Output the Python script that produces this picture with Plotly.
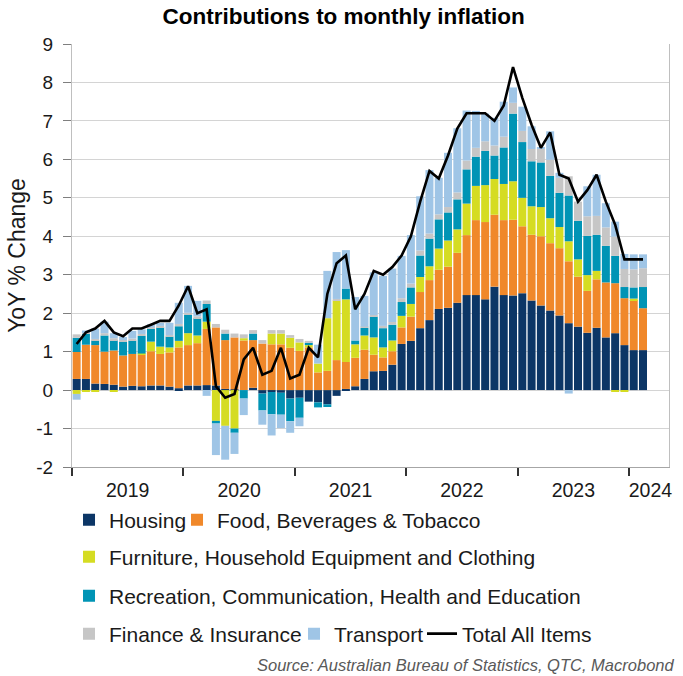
import plotly.graph_objects as go

# Months: Jan 2019 .. Feb 2024 (index 0..61)
months = [f"{y}-{m:02d}" for y in range(2019, 2025) for m in range(1, 13)][:62]

housing = [0.29, 0.29, 0.17, 0.16, 0.14, 0.09, 0.11, 0.10, 0.12, 0.12, 0.09, 0.05,
           0.12, 0.12, 0.13, 0.12, 0.03, 0.02, 0.00, 0.06, -0.09, -0.05, -0.07, -0.22,
           -0.20, -0.30, -0.32, -0.37, -0.15, 0.03, 0.10, 0.29, 0.49, 0.50, 0.66, 1.20,
           1.28, 1.61, 1.82, 2.11, 2.14, 2.27, 2.47, 2.47, 2.36, 2.69, 2.47, 2.46,
           2.52, 2.33, 2.20, 2.07, 1.94, 1.74, 1.65, 1.49, 1.62, 1.37, 1.48, 1.17, 1.04, 1.04]
food = [0.70, 0.89, 1.00, 0.84, 0.89, 0.81, 0.83, 0.82, 0.89, 0.82, 0.89, 1.06,
        1.05, 1.10, 1.46, 1.51, 1.27, 1.35, 1.29, 1.24, 1.21, 1.19, 1.19, 1.10,
        1.02, 1.11, 0.46, 0.50, 0.78, 0.70, 0.74, 0.76, 0.43, 0.35, 0.35, 0.43,
        0.63, 0.94, 1.04, 1.02, 1.07, 1.30, 1.56, 1.95, 2.01, 1.87, 1.95, 1.97,
        1.74, 1.71, 1.80, 1.75, 1.75, 1.61, 1.30, 1.09, 1.26, 1.43, 1.30, 1.22, 1.30, 1.09]
furniture = [-0.10, -0.04, -0.03, 0.00, -0.03, 0.00, 0.00, 0.03, 0.25, 0.19, 0.13, 0.17,
             0.31, 0.20, 0.19, -0.80, -0.93, -1.00, 0.06, 0.00, 0.00, 0.28, 0.28, 0.26,
             0.22, 0.06, 0.23, 1.37, 1.55, 1.63, 0.35, 0.37, 0.45, 0.26, 0.28, 0.30,
             0.33, 0.39, 0.36, 0.55, 0.68, 0.61, 0.82, 0.89, 0.96, 0.93, 0.94, 1.00,
             0.74, 0.74, 0.76, 0.65, 0.55, 0.52, 0.45, 0.41, 0.22, 0.00, -0.04, -0.04, 0.04, 0.00]
recreation = [0.37, 0.28, 0.12, 0.42, 0.27, 0.36, 0.35, 0.46, 0.33, 0.50, 0.28, 0.38,
              0.48, 0.45, 0.46, -0.07, 0.17, -0.11, -0.22, 0.17, -0.44, -0.58, -0.57, -0.59,
              -0.52, 0.06, -0.13, -0.07, 0.00, 0.28, 0.10, 0.20, 0.54, 0.50, 0.41, 0.36,
              0.43, 0.56, 0.72, 0.76, 0.73, 0.78, 0.89, 0.76, 0.89, 0.61, 0.95, 1.76,
              1.45, 1.17, 1.16, 1.10, 0.89, 1.19, 1.00, 1.02, 0.94, 0.95, 0.71, 0.29, 0.29, 0.55]
finance = [0.09, 0.05, 0.04, 0.06, 0.05, 0.04, 0.05, 0.05, 0.04, 0.04, 0.04, 0.06,
           0.05, 0.05, 0.09, 0.09, 0.10, 0.10, 0.10, 0.09, 0.09, 0.09, 0.09, 0.07,
           0.09, 0.05, 0.00, 0.00, 0.04, 0.00, 0.00, 0.03, 0.04, 0.06, 0.07, 0.10,
           0.10, 0.13, 0.13, 0.13, 0.14, 0.18, 0.23, 0.23, 0.25, 0.26, 0.28, 0.28,
           0.29, 0.32, 0.35, 0.42, 0.39, 0.50, 0.50, 0.51, 0.49, 0.48, 0.50, 0.47, 0.47, 0.49]
transport = [-0.15, 0.04, 0.27, 0.30, 0.13, 0.08, 0.20, 0.12, 0.08, 0.08, 0.32, 0.55,
             0.70, 0.40, -0.15, -0.82, -0.88, -0.55, -0.43, 0.00, -0.37, -0.55, -0.35, -0.30,
             -0.22, 0.00, 0.49, 1.23, 1.22, 1.00, 1.13, 0.80, 1.11, 1.30, 1.39, 1.10,
             1.26, 1.41, 1.65, 0.95, 1.41, 1.67, 1.30, 0.96, 0.72, 0.72, 0.91, 0.40,
             0.63, 0.59, 0.05, 0.74, 0.13, -0.09, 0.00, 0.78, 1.07, 0.63, 0.39, 0.39, 0.39, 0.36]
total = [1.2, 1.5, 1.6, 1.8, 1.5, 1.4, 1.6, 1.6, 1.7, 1.8, 1.8, 2.2,
         2.7, 2.0, 2.1, 0.1, -0.2, -0.1, 0.8, 1.1, 0.4, 0.5, 1.1, 0.3,
         0.4, 1.1, 0.85, 2.5, 3.3, 3.5, 2.1, 2.5, 3.1, 3.0, 3.2, 3.5,
         4.0, 4.9, 5.7, 5.5, 6.1, 6.8, 7.2, 7.2, 7.2, 7.0, 7.4, 8.4,
         7.6, 6.9, 6.3, 6.7, 5.6, 5.5, 4.9, 5.2, 5.6, 4.9, 4.3, 3.4, 3.4, 3.4]

year_labels = ["2019", "2020", "2021", "2022", "2023", "2024"]
year_label_pos = [6, 18, 30, 42, 54, 62.3]
year_bounds = [0, 12, 24, 36, 48, 60]
y_tickvals = list(range(-2, 10))
y_ticktext = [str(v) for v in y_tickvals]  # plain hyphen minus, as in the original

# bar centre positions on a month-index axis (each month spans [i, i+1])
xpos = [i + 0.5 for i in range(len(months))]

# name, values, colour, legend row, legend entry width (px)
series = [
    ("Housing", housing, "#0c3666", "legend", 63),
    ("Food, Beverages & Tobacco", food, "#f0882a", "legend", None),
    ("Furniture, Household Equipment and Clothing", furniture, "#d5dc22", "legend2", None),
    ("Recreation, Communication, Health and Education", recreation, "#0094b5", "legend3", None),
    ("Finance & Insurance", finance, "#c6c6c6", "legend4", 180),
    ("Transport", transport, "#9fc5e6", "legend4", 83),
]

FONT = "Arial, Liberation Sans, sans-serif"

fig = go.Figure()
for name, vals, col, lg, lw in series:
    kw = dict(legendwidth=lw) if lw else {}
    fig.add_trace(go.Bar(x=xpos, y=vals, name=name, marker=dict(color=col, line=dict(width=0)),
                         width=0.86, legend=lg, customdata=months,
                         hovertemplate="%{customdata}: %{y}<extra>" + name + "</extra>", **kw))
fig.add_trace(go.Scatter(x=xpos, y=total, name="Total All Items", mode="lines",
                         line=dict(color="black", width=2.6), legend="legend4",
                         customdata=months, hovertemplate="%{customdata}: %{y}<extra>Total</extra>"))

H0 = 467.0  # pixel of plot bottom
PH = 423.0  # plot height px


def py(pix):
    return (H0 - pix) / PH


legend_common = dict(orientation="h", xanchor="left", yanchor="middle", x=-0.005,
                     font=dict(family=FONT, size=21, color="#1a1a1a"),
                     bgcolor="rgba(0,0,0,0)", traceorder="normal")

fig.update_layout(
    width=683, height=676,
    margin=dict(l=72, r=11, t=44, b=209),
    paper_bgcolor="white", plot_bgcolor="white",
    barmode="relative", bargap=0.14,
    font=dict(family=FONT, color="#1a1a1a"),
    title=dict(text="<b>Contributions to monthly inflation</b>", x=0.455, xref="paper",
               xanchor="center", y=0.976, yref="container", yanchor="middle",
               font=dict(family=FONT, size=22.5, color="black")),
    legend=dict(**legend_common, y=py(520)),
    legend2=dict(**legend_common, y=py(557)),
    legend3=dict(**legend_common, y=py(596)),
    legend4=dict(**legend_common, y=py(634)),
    xaxis=dict(range=[0, 64.3], tickmode="array", tickvals=year_label_pos, ticktext=year_labels,
               ticks="", showgrid=False, zeroline=False, showline=True, linecolor="#a6a6a6",
               linewidth=1, tickfont=dict(family=FONT, size=19.5, color="#1a1a1a"),
               ticklabelstandoff=6,
               minor=dict(tickmode="array", tickvals=year_bounds, ticks="outside", ticklen=8,
                          tickwidth=1.5, tickcolor="#333333", showgrid=False)),
    yaxis=dict(range=[-2, 9], tickmode="array", tickvals=y_tickvals, ticktext=y_ticktext,
               ticks="outside", ticklen=8,
               tickcolor="#7f7f7f", tickwidth=1.2, showgrid=True, gridcolor="#d4d4d4", gridwidth=1,
               zeroline=False, showline=True, linecolor="#bfbfbf", linewidth=1.2, mirror=True,
               tickfont=dict(family=FONT, size=19, color="#1a1a1a"), ticklabelstandoff=6,
               title=dict(text="YoY % Change", standoff=4,
                          font=dict(family=FONT, size=23, color="#1a1a1a"))),
    showlegend=True,
)

fig.add_annotation(text="<i>Source: Australian Bureau of Statistics, QTC, Macrobond</i>",
                   xref="paper", yref="paper", x=(679 - 72) / 600.0, y=py(665),
                   xanchor="right", yanchor="middle", showarrow=False,
                   font=dict(family=FONT, size=16.5, color="#595959"))

fig.write_html("out.html")
